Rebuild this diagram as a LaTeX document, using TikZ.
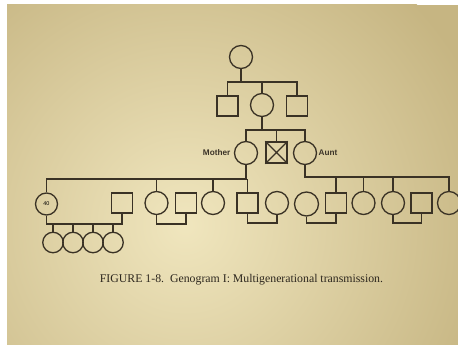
\documentclass[tikz,border=0pt]{standalone}
\usepackage{fontspec}
\setmainfont{Liberation Serif}
\newfontfamily\labelfont{Liberation Sans}
\begin{document}
\begin{tikzpicture}[x=1pt,y=-1pt,
  ink/.style={draw={rgb,255:red,58;green,50;blue,37}, line width=1.3pt},
  female/.style={circle, ink, minimum size=23pt, inner sep=0pt},
  male/.style={rectangle, ink, minimum width=21pt, minimum height=20pt, inner sep=0pt},
  kid/.style={circle, ink, minimum size=20.5pt, inner sep=0pt},
  tag/.style={font=\labelfont\bfseries\fontsize{8.2}{9}\selectfont, text={rgb,255:red,60;green,52;blue,40}, inner sep=0pt}
]
\definecolor{paperlight}{RGB}{240,230,190}
\definecolor{paperdark}{RGB}{198,181,130}
\useasboundingbox (0,0) rectangle (458,345);
\fill[white] (0,0) rectangle (458,345);
% the paper sheet
\begin{scope}
  \clip (7,5) rectangle (458,345);
  \fill[paperdark] (7,5) rectangle (458,345);
  \shade[inner color=paperlight, outer color=paperdark] (185,225) circle (320);
\end{scope}

\begin{scope}
\clip (7,5) rectangle (458,345);

% first generation
\node[female] (T) at (241,57) {};
% second generation
\node[male]   (L)  at (227.5,106) {};
\node[female] (M2) at (262,105) {};
\node[male]   (R)  at (297,106) {};
% third generation
\node[female] (Mo) at (246,153) {};
\node[male, minimum height=21pt] (X) at (276.5,152.5) {};
\draw[ink] (X.north west) -- (X.south east) (X.north east) -- (X.south west);
\node[female] (Au) at (305,153) {};
\node[tag, anchor=east] (moL) at (230.5,153) {Mother};
\node[tag, anchor=west] (auL) at (318.5,153) {Aunt};

% fourth generation: mother's children and spouses
\node[female, minimum size=22pt] (C40) at (46.5,204) {};
\node[font=\labelfont\fontsize{5.5}{6}\selectfont, inner sep=0pt] (n40) at (C40.center) {40};
\node[male] (S1) at (122,203) {};
\node[female] (C2) at (156.5,203) {};
\node[male] (S2) at (186,203) {};
\node[female] (C3) at (213,203) {};
\node[male] (S3) at (247.5,203) {};
\node[female] (C4) at (277,203) {};
% fourth generation: aunt's children and spouses
\node[female, minimum size=24pt] (C5) at (306.5,204) {};
\node[male] (S4) at (336,203) {};
\node[female] (C6) at (363.5,203) {};
\node[female] (C7) at (393,203) {};
\node[male] (S5) at (421.5,203) {};
\node[female] (C8) at (449,203) {};

% fifth generation
\node[kid] (G1) at (53,242.5) {};
\node[kid] (G2) at (73,242.5) {};
\node[kid] (G3) at (93,242.5) {};
\node[kid] (G4) at (113,242.5) {};

% sibling bars
\coordinate (b1) at (0,82);
\coordinate (b2) at (0,130);
\coordinate (b3) at (0,179);
\coordinate (b4) at (0,177);
% marriage lines
\coordinate (m1) at (0,224);
\coordinate (m2) at (0,223);

\draw[ink] (T.south) -- (T.south |- b1);
\draw[ink] (L.north) -- (L.north |- b1) -- (R.north |- b1) -- (R.north);
\draw[ink] (M2.north) -- (M2.north |- b1);

\draw[ink] (M2.south) -- (M2.south |- b2);
\draw[ink] (Mo.north) -- (Mo.north |- b2) -- (Au.north |- b2) -- (Au.north);
\draw[ink] (X.north) -- (X.north |- b2);

\draw[ink] (Mo.south) -- (Mo.south |- b3) -- (C40.north |- b3) -- (C40.north);
\draw[ink] (C2.north) -- (C2.north |- b3);
\draw[ink] (C3.north) -- (C3.north |- b3);
\draw[ink] (S3.north) -- (S3.north |- b3);

\draw[ink] (Au.south) -- (Au.south |- b4) -- (C8.north |- b4) -- (C8.north);
\draw[ink] (S4.north) -- (S4.north |- b4);
\draw[ink] (C6.north) -- (C6.north |- b4);
\draw[ink] (C7.north) -- (C7.north |- b4);

\draw[ink] (C40.south) -- (C40.south |- m1) -- (S1.south |- m1) -- (S1.south);
\draw[ink] (C2.south) -- (C2.south |- m1) -- (S2.south |- m1) -- (S2.south);
\draw[ink] (S3.south) -- (S3.south |- m2) -- (C4.south |- m2) -- (C4.south);
\draw[ink] (C5.south) -- (C5.south |- m2) -- (S4.south |- m2) -- (S4.south);
\draw[ink] (C7.south) -- (C7.south |- m2) -- (S5.south |- m2) -- (S5.south);

\foreach \g in {G1,G2,G3,G4}
  \draw[ink] (\g.north) -- (\g.north |- m1);
\end{scope}

% caption
\node[anchor=base, inner sep=0pt, font=\fontsize{11.8}{13}\selectfont,
      text={rgb,255:red,45;green,39;blue,30}] (cap) at (241.5,282)
  {FIGURE 1-8.\ \ Genogram I: Multigenerational transmission.};
\end{tikzpicture}
\end{document}
